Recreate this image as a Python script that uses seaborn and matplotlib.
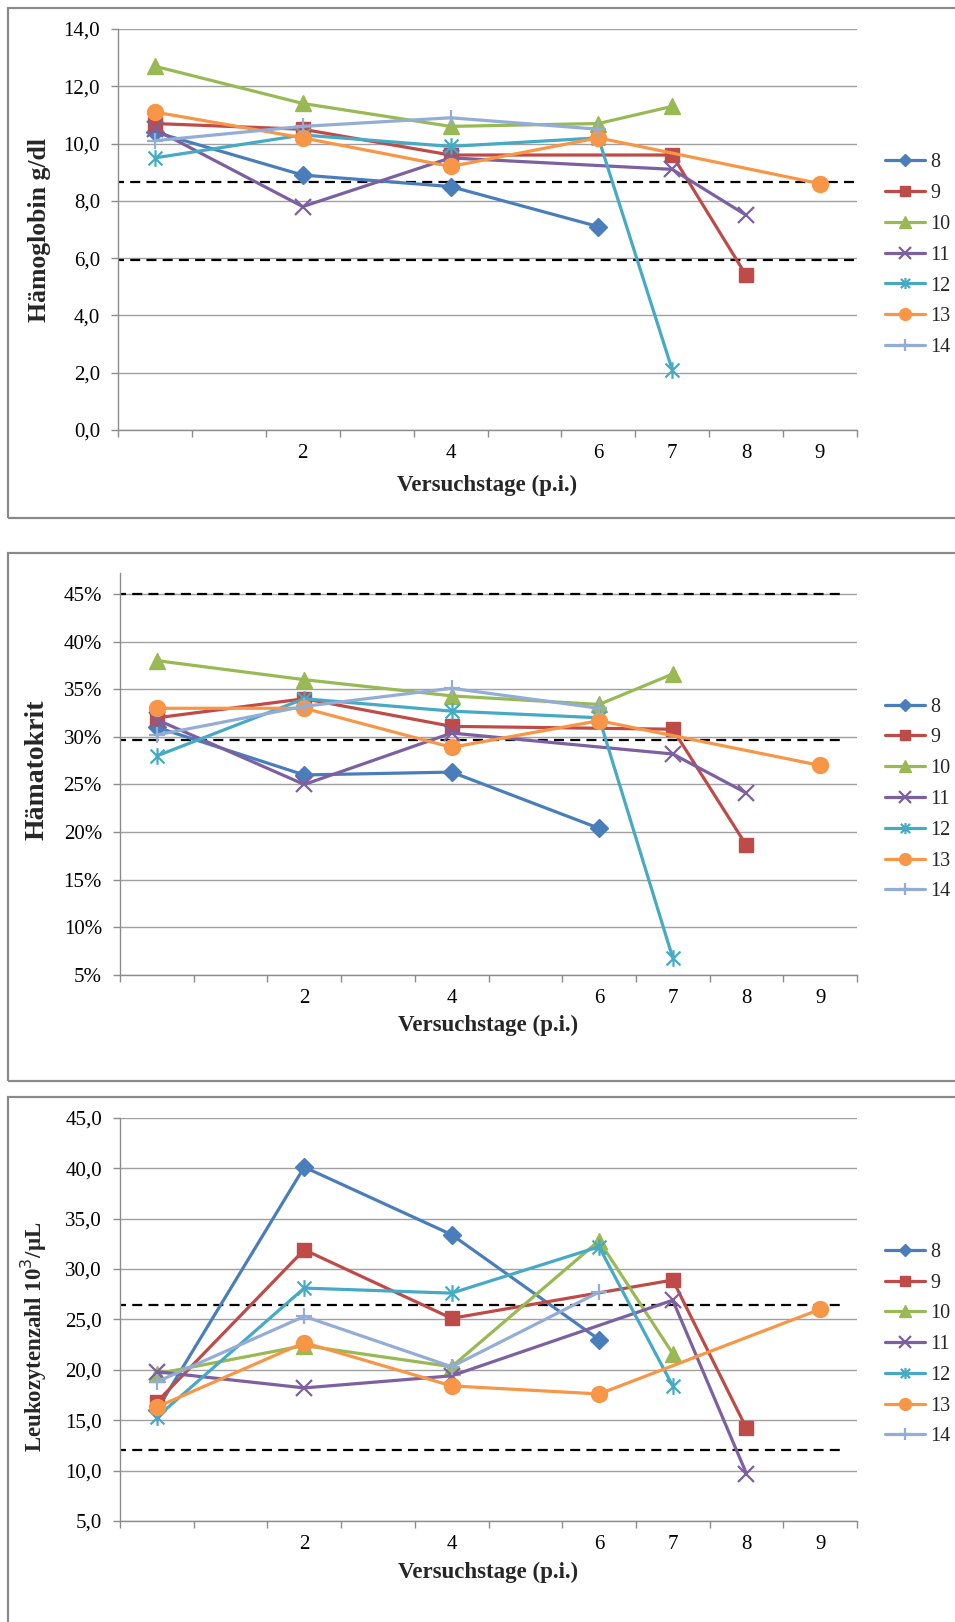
"""Blutwerte (Hb, Hkt, Leukozyten) der Tiere 8-14 über die Versuchstage."""

import matplotlib
matplotlib.use("Agg")
import matplotlib.pyplot as plt
from matplotlib.lines import Line2D
from matplotlib.patches import Rectangle
from matplotlib.path import Path
from matplotlib.ticker import FixedLocator, FuncFormatter, PercentFormatter
import numpy as np
import pandas as pd
import seaborn as sns

n = np.nan

# ── Daten ────────────────────────────────────────────────────────────────
# Kategorie-Achse wie im Original (leere Kategorien ohne Beschriftung)
tage = ["", "", "2", "", "4", "", "6", "7", "8", "9"]
tiere = ["8", "9", "10", "11", "12", "13", "14"]

haemoglobin = [
    [10.4, n, 8.9, n, 8.5, n, 7.1, n, n, n],
    [10.7, n, 10.5, n, 9.6, n, n, 9.6, 5.4, n],
    [12.7, n, 11.4, n, 10.6, n, 10.7, 11.3, n, n],
    [10.5, n, 7.8, n, 9.5, n, n, 9.1, 7.5, n],
    [9.5, n, 10.3, n, 9.9, n, 10.2, 2.1, n, n],
    [11.1, n, 10.2, n, 9.2, n, 10.2, n, n, 8.6],
    [10.1, n, 10.6, n, 10.9, n, 10.5, n, n, n],
]
haematokrit = [
    [31.0, n, 26.0, n, 26.3, n, 20.4, n, n, n],
    [32.0, n, 34.0, n, 31.1, n, n, 30.8, 18.6, n],
    [38.0, n, 36.0, n, 34.3, n, 33.4, 36.6, n, n],
    [31.8, n, 25.0, n, 30.4, n, n, 28.2, 24.1, n],
    [28.0, n, 34.0, n, 32.7, n, 32.0, 6.8, n, n],
    [33.0, n, 33.0, n, 28.9, n, 31.7, n, n, 27.0],
    [30.2, n, 33.2, n, 35.1, n, 33.0, n, n, n],
]
leukozyten = [
    [16.0, n, 40.1, n, 33.4, n, 23.0, n, n, n],
    [16.8, n, 31.9, n, 25.1, n, n, 28.9, 14.2, n],
    [19.6, n, 22.4, n, 20.3, n, 32.8, 21.6, n, n],
    [19.8, n, 18.2, n, 19.4, n, n, 26.9, 9.7, n],
    [15.3, n, 28.1, n, 27.6, n, 32.2, 18.4, n, n],
    [16.3, n, 22.7, n, 18.4, n, 17.6, n, n, 26.0],
    [18.8, n, 25.3, n, 20.3, n, 27.7, n, n, n],
]

# Referenzbereiche (gestrichelt)
ref_hb = [5.95, 8.65]
ref_hkt = [29.7, 45.0]
ref_leuko = [12.0, 26.4]

# ── Stil ────────────────────────────────────────────────────────────────
farben = ["#4A7EBB", "#BE4B48", "#98B954", "#7D60A0", "#46AAC5", "#F79646", "#93ADD6"]
asterisk = Path([(-1, -1), (1, 1), (-1, 1), (1, -1), (0, -1.2), (0, 1.2)],
                [Path.MOVETO, Path.LINETO, Path.MOVETO, Path.LINETO, Path.MOVETO, Path.LINETO])
marker = ["D", "s", "^", "x", asterisk, "o", "+"]
msize = [9, 10.5, 11.5, 12, 12, 11.5, 12]
mew = [1, 1, 1, 1.6, 1.6, 1, 1.6]
legend_ms = [6, 7.5, 8.5, 8, 8, 8.5, 9]

sns.set_theme(style="white")
plt.rcParams.update({
    "font.family": ["Liberation Serif", "DejaVu Serif"],
    "axes.edgecolor": "#8C8C8C",
    "axes.linewidth": 1.0,
    "xtick.color": "#8C8C8C",
    "ytick.color": "#8C8C8C",
    "xtick.labelcolor": "black",
    "ytick.labelcolor": "black",
})

W, H = 955, 1622
fig = plt.figure(figsize=(W / 100, H / 100), dpi=100)

# Rahmen der drei Diagramme (wie eingefügte Excel-Diagramme)
for top, bottom in [(8, 518), (553, 1081), (1097, 1640)]:
    fig.patches.append(Rectangle((8 / W, 1 - bottom / H), 1.0, (bottom - top) / H,
                                 transform=fig.transFigure, fill=False,
                                 edgecolor="#8A8A8A", linewidth=1.6))


def px_axes(left, right, top, bottom):
    return fig.add_axes([left / W, 1 - bottom / H, (right - left) / W, (bottom - top) / H])


panels = [
    dict(ax=px_axes(118, 857, 29, 430), values=haemoglobin, refs=ref_hb, ylim=(0, 14), step=2,
         ylabel="Hämoglobin g/dl", ylab_size=18.5, fmt="comma", ref_end=[9.47, 9.47],
         ylab_pos=(-0.091, 0.5), xlab_y=-0.112),
    dict(ax=px_axes(120, 857, 573, 975), values=haematokrit, refs=ref_hkt, ylim=(5, 47.2), step=5,
         ylabel="Hämatokrit", ylab_size=20, fmt="pct", ref_end=[9.33, 9.33],
         ylab_pos=(-0.095, 0.51), xlab_y=-0.1),
    dict(ax=px_axes(120, 857, 1117.7, 1521), values=leukozyten, refs=ref_leuko, ylim=(5, 45), step=5,
         ylabel="Leukozytenzahl 10$^3$/µL", ylab_size=16.5, fmt="comma", ref_end=[9.27, 9.27],
         ylab_pos=(-0.097, 0.456), xlab_y=-0.102),
]

x_idx = np.arange(len(tage))

for p in panels:
    ax = p["ax"]
    ax.set_facecolor("white")

    # Referenzlinien
    for ref, xend in zip(p["refs"], p["ref_end"]):
        ax.plot([-0.55, xend], [ref, ref], color="black", lw=1.6,
                linestyle=(0, (4.5, 2.8)), zorder=2)

    for i, tier in enumerate(tiere):
        df = pd.DataFrame({"x": x_idx, "wert": p["values"][i]}).dropna()
        sns.lineplot(data=df, x="x", y="wert", ax=ax, color=farben[i], lw=2.3,
                     marker=marker[i], markersize=msize[i], mec=farben[i], mfc=farben[i],
                     mew=mew[i], legend=False, zorder=3 + i)

    # Achsen
    ax.set_xlim(-0.5, len(tage) - 0.5)
    ax.set_ylim(*p["ylim"])
    yt = np.arange(p["ylim"][0], p["ylim"][1] + 0.01, p["step"])
    ax.set_yticks(yt)
    if p["fmt"] == "pct":
        ax.yaxis.set_major_formatter(PercentFormatter(xmax=100, decimals=0))
    else:
        ax.yaxis.set_major_formatter(FuncFormatter(lambda v, _: f"{v:.1f}".replace(".", ",")))
    ax.grid(axis="y", color="#A0A0A0", lw=1.0, zorder=0)
    ax.set_axisbelow(True)

    ax.xaxis.set_major_locator(FixedLocator(np.arange(-0.5, len(tage), 1.0)))
    ax.xaxis.set_major_formatter(FuncFormatter(lambda v, _: ""))
    ax.xaxis.set_minor_locator(FixedLocator(x_idx))
    ax.set_xticklabels(tage, minor=True)
    ax.tick_params(axis="x", which="major", direction="out", length=5, width=1, bottom=True)
    ax.tick_params(axis="x", which="minor", length=0, pad=10, labelsize=15)
    ax.tick_params(axis="y", direction="out", length=5, width=1, left=True, pad=8, labelsize=15)

    for side in ["top", "right"]:
        ax.spines[side].set_visible(False)

    ax.set_xlabel("Versuchstage (p.i.)", fontsize=16.5, fontweight="bold")
    ax.xaxis.set_label_coords(0.5, p["xlab_y"])
    ax.set_ylabel(p["ylabel"], fontsize=p["ylab_size"], fontweight="bold")
    ax.yaxis.set_label_coords(*p["ylab_pos"])

    handles = [Line2D([], [], color=farben[i], lw=2.3, marker=marker[i], ms=legend_ms[i],
                      mec=farben[i], mfc=farben[i], mew=mew[i], label=t)
               for i, t in enumerate(tiere)]
    ax.legend(handles=handles, loc="upper left", bbox_to_anchor=(1.038, 0.69), frameon=False,
              fontsize=14.5, borderaxespad=0, borderpad=0, handlelength=2.0,
              handletextpad=0.25, labelspacing=0.58)

fig.savefig("out.png", dpi=100, facecolor="white")
